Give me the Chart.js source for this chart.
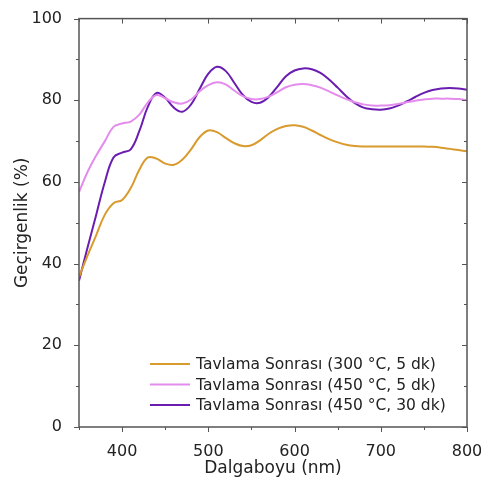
<!DOCTYPE html>
<html>
<head>
<meta charset="utf-8">
<script src="https://cdn.jsdelivr.net/npm/chart.js@4/dist/chart.umd.min.js"></script>
<style>
  html, body { margin: 0; padding: 0; background: #fff; }
  #wrap { width: 481px; height: 482px; }
</style>
</head>
<body>
<div id="wrap"><canvas id="c" width="481" height="482"></canvas></div>
<script>
// wavelength (nm)
const wavelengths = [350,360,370,380,390,400,410,420,430,440,450,460,470,480,490,500,510,520,530,540,550,560,570,580,590,600,610,620,630,640,650,660,670,680,690,700,710,720,730,740,750,760,770,780,790,800];

// transmittance (%)
const t300_5 = [36.7,42,47,52,54.8,55.6,58.5,63,66,65.7,64.5,64.2,65.5,68,71,72.6,72.2,70.8,69.5,68.8,69,70.2,71.8,73,73.7,73.9,73.5,72.6,71.5,70.5,69.7,69.1,68.8,68.7,68.7,68.7,68.7,68.7,68.7,68.7,68.7,68.6,68.4,68.1,67.8,67.5];
const t450_5 = [57.5,62.5,66.5,70,73.5,74.3,74.8,76.5,79.5,81.3,80.5,79.5,79.2,80.2,82.2,83.7,84.4,83.9,82.4,81,80.3,80.3,80.9,82,83.2,83.8,84,83.7,83.1,82.2,81.2,80.3,79.5,79,78.7,78.7,78.8,79.1,79.5,79.9,80.2,80.4,80.4,80.4,80.3,80.0];
const t450_30 = [35.8,44,52,60,66,67.2,68,72.5,78.5,81.8,80.6,78.2,77.2,79,82.8,86.5,88.2,87.2,84.3,81.3,79.6,79.4,80.8,83.3,85.9,87.3,87.8,87.6,86.7,85.1,83.1,81,79.3,78.2,77.8,77.7,78,78.7,79.7,80.8,81.8,82.5,82.9,83,82.9,82.6];

const seriesLabels = [
  'Tavlama Sonrası (300 °C, 5 dk)',
  'Tavlama Sonrası (450 °C, 5 dk)',
  'Tavlama Sonrası (450 °C, 30 dk)'
];
const seriesColors = ['#D99A2E', '#E48CEC', '#6A1DB0'];

const xLabelTicks = [400, 500, 600, 700, 800];
const yLabelTicks = [0, 20, 40, 60, 80, 100];

const axisColor = '#555';
const textColor = '#222';
Chart.defaults.font.family = '"DejaVu Sans", sans-serif';

function pts(ys) {
  return wavelengths.map((w, i) => ({x: w, y: ys[i]}));
}

// frame + inward/outward tick marks like the original plot
const frameTicks = {
  id: 'frameTicks',
  afterDraw(chart) {
    const {ctx, chartArea: a, scales: {x, y}} = chart;
    ctx.save();
    ctx.strokeStyle = axisColor;
    ctx.lineWidth = 1.5;
    ctx.strokeRect(a.left, a.top, a.right - a.left, a.bottom - a.top);
    ctx.lineWidth = 1;
    ctx.beginPath();
    x.ticks.forEach(t => {
      const px = Math.round(x.getPixelForValue(t.value)) + 0.5;
      const len = xLabelTicks.includes(t.value) ? 5 : 3;
      ctx.moveTo(px, a.bottom); ctx.lineTo(px, a.bottom + len);
      ctx.moveTo(px, a.top); ctx.lineTo(px, a.top + len);
    });
    y.ticks.forEach(t => {
      const py = Math.round(y.getPixelForValue(t.value)) + 0.5;
      const len = yLabelTicks.includes(t.value) ? 5 : 3;
      ctx.moveTo(a.left, py); ctx.lineTo(a.left - len, py);
      ctx.moveTo(a.right, py); ctx.lineTo(a.right - len, py);
    });
    ctx.stroke();
    ctx.restore();
  }
};

// legend inside the plot, bottom right
const innerLegend = {
  id: 'innerLegend',
  afterDraw(chart) {
    const ctx = chart.ctx;
    ctx.save();
    ctx.font = '15.5px "DejaVu Sans", sans-serif';
    ctx.textBaseline = 'middle';
    chart.data.datasets.forEach((ds, i) => {
      const yy = 364 + i * 20.5;
      ctx.strokeStyle = ds.borderColor;
      ctx.lineWidth = 2;
      ctx.beginPath();
      ctx.moveTo(150, yy); ctx.lineTo(190, yy);
      ctx.stroke();
      ctx.fillStyle = textColor;
      ctx.fillText(ds.label, 196, yy + 1);
    });
    ctx.restore();
  }
};

new Chart(document.getElementById('c'), {
  type: 'line',
  data: {
    datasets: seriesLabels.map((lab, i) => ({
      label: lab,
      data: pts([t300_5, t450_5, t450_30][i]),
      borderColor: seriesColors[i],
      borderWidth: 2,
      pointRadius: 0,
      tension: 0.4
    }))
  },
  options: {
    responsive: false,
    animation: false,
    layout: { padding: { top: 16, right: 14, left: 0, bottom: 0 } },
    plugins: { legend: { display: false }, tooltip: { enabled: false } },
    scales: {
      x: {
        type: 'linear',
        min: 350,
        max: 800,
        grid: { display: false },
        border: { display: false },
        ticks: {
          stepSize: 50,
          autoSkip: false,
          maxRotation: 0,
          padding: 7,
          color: textColor,
          font: { size: 16 },
          callback: v => xLabelTicks.includes(v) ? String(v) : ''
        },
        title: {
          display: true,
          text: 'Dalgaboyu (nm)',
          color: textColor,
          font: { size: 17 },
          padding: { top: 0, bottom: 3 }
        },
        afterFit(s) { s.height = 55; s.paddingLeft = 0; s.paddingRight = 0; }
      },
      y: {
        min: 0,
        max: 100,
        grid: { display: false },
        border: { display: false },
        ticks: {
          stepSize: 10,
          autoSkip: false,
          padding: 9,
          color: textColor,
          font: { size: 16 },
          callback: v => yLabelTicks.includes(v) ? String(v) : ''
        },
        title: {
          display: true,
          text: 'Geçirgenlik (%)',
          color: textColor,
          font: { size: 17 },
          padding: { top: 12, bottom: 0 }
        },
        afterFit(s) { s.width = 79; }
      }
    }
  },
  plugins: [frameTicks, innerLegend]
});
</script>
</body>
</html>
